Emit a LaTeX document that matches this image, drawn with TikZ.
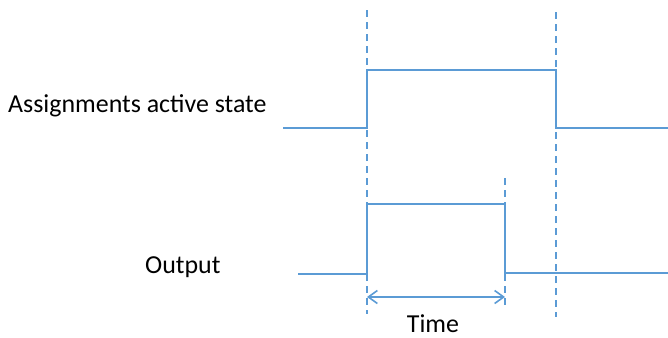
\documentclass[tikz,border=0pt]{standalone}
\usepackage{fontspec}
\setmainfont{Carlito}
\usetikzlibrary{arrows.meta}
\definecolor{sigblue}{HTML}{5B9BD5}

\begin{document}
\begin{tikzpicture}[x=1bp, y=-1bp,
  signal/.style={draw=sigblue, line width=1.6bp},
  marker/.style={draw=sigblue, line width=1.4bp, dash pattern=on 7bp off 5bp},
  sigtext/.style={font=\fontsize{26}{30}\selectfont, inner sep=0pt}]
\useasboundingbox (0,0) rectangle (668,337);
\node[sigtext, anchor=base west] (assign) at (8,112) {Assignments active state};
\node[sigtext, anchor=base west] (out) at (145,273) {Output};
\node[sigtext, anchor=base] (time) at (433,332) {Time};
% active state
\coordinate (a0) at (283,128);
\coordinate (a1) at (367,128);
\coordinate (a2) at (367,70);
\coordinate (a3) at (556,70);
\coordinate (a4) at (556,128);
\coordinate (a5) at (668,128);
\draw[signal] (a0) -- (a1) -- (a2) -- (a3) -- (a4) -- (a5);
% output
\coordinate (o0) at (298,274);
\coordinate (o1) at (367,274);
\coordinate (o2) at (367,204);
\coordinate (o3) at (505,204);
\coordinate (o4) at (505,273);
\coordinate (o5) at (668,273);
\draw[signal] (o0) -- (o1) -- (o2) -- (o3) -- (o4) -- (o5);
% markers
\coordinate (m1t) at (367,10);
\coordinate (m1b) at (367,314);
\coordinate (m2t) at (505,178);
\coordinate (m2b) at (505,306);
\coordinate (m3t) at (556,12);
\coordinate (m3b) at (556,317);
\draw[marker] (m1t) -- (m1b);
\draw[marker] (m2t) -- (m2b);
\draw[marker] (m3t) -- (m3b);
% time span
\coordinate (t1) at (367,297);
\coordinate (t2) at (505,297);
\draw[signal, {Straight Barb[length=9bp, width=13bp]}-{Straight Barb[length=9bp, width=13bp]}] (t1) -- (t2);
\end{tikzpicture}
\end{document}
